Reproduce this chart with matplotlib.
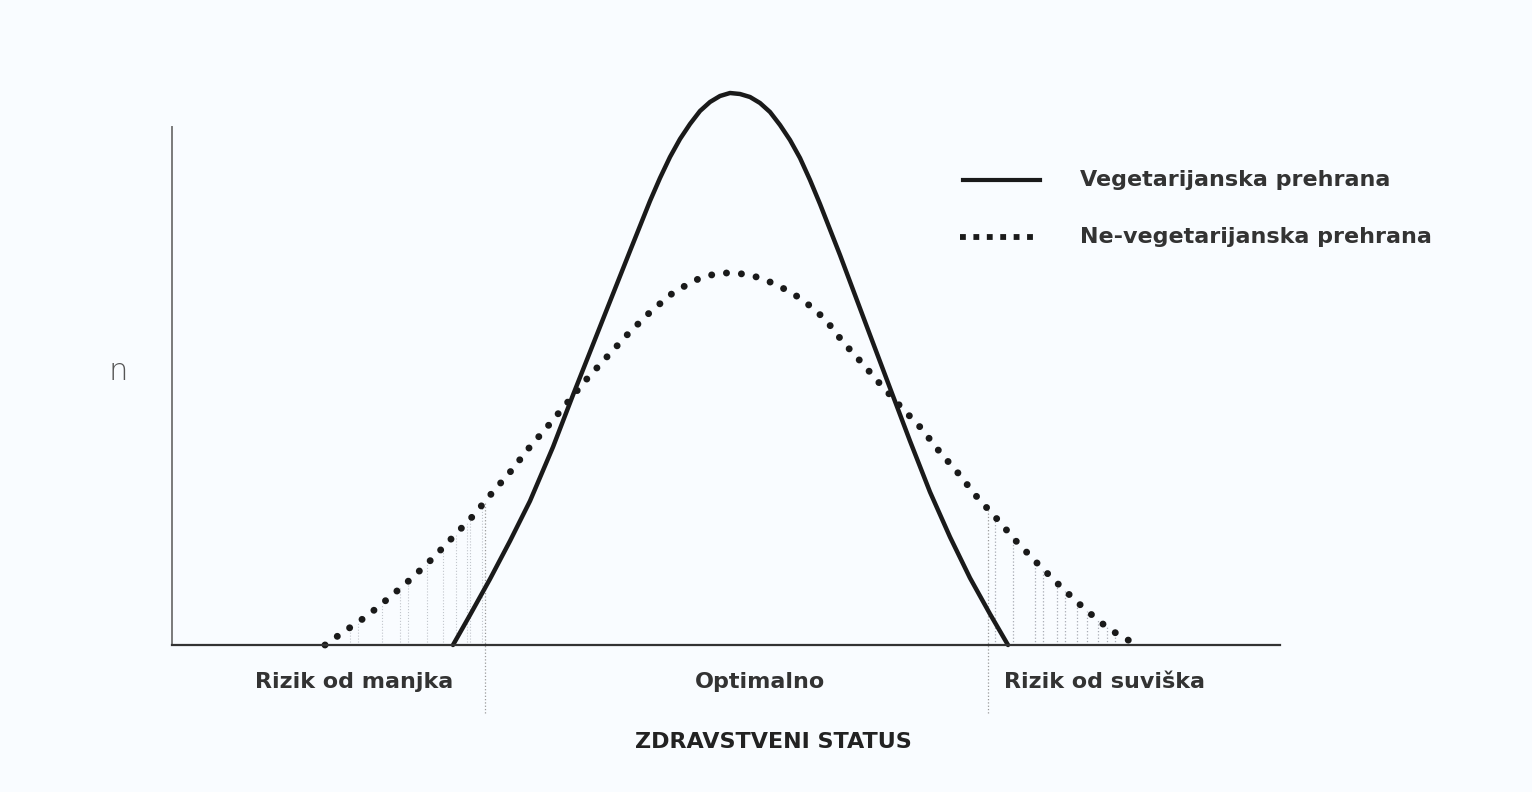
import numpy as np
import matplotlib.pyplot as plt

# values (x = health status, y = n), axis origin at (0, 0)
veg_x = [28.1, 29.8, 31.8, 33.8, 35.8, 38.1, 40.1, 43.5, 45.8, 47.8, 48.8, 49.8, 50.8,
         51.8, 52.8, 53.8, 54.8, 55.8, 56.8, 57.8, 58.8, 59.8, 60.8, 61.8, 62.8, 63.8,
         64.8, 66.8, 69.5, 72.1, 73.8, 75.8, 77.8, 79.8, 81.8, 83.6]
veg_y = [0.0, 3.0, 6.6, 10.4, 14.4, 19.8, 25.0, 33.6, 39.4, 44.4, 46.7, 48.8, 50.6,
         52.1, 53.4, 54.3, 54.9, 55.2, 55.1, 54.8, 54.2, 53.3, 52.0, 50.5, 48.7, 46.5,
         44.1, 39.0, 31.8, 24.9, 20.4, 15.3, 10.8, 6.7, 3.1, 0.0]

nonveg_x = [15.3, 17.0, 19.5, 21.8, 24.0, 26.1, 28.1, 30.1, 32.0, 33.9, 35.7, 37.6, 39.5,
            41.3, 43.3, 45.5, 47.5, 49.8, 52.1, 53.5, 54.8, 56.3, 57.8, 59.1, 60.5, 61.8,
            63.1, 65.3, 67.1, 69.0, 70.9, 72.9, 74.9, 76.7, 78.6, 80.5, 82.5, 84.4, 86.4,
            88.4, 90.5, 92.8, 94.8, 96.6]
nonveg_y = [0.0, 1.2, 2.9, 4.8, 6.7, 8.7, 10.8, 12.9, 15.2, 17.4, 19.7, 21.9, 24.2,
            26.4, 28.6, 31.0, 33.0, 35.0, 36.4, 36.9, 37.2, 37.2, 37.0, 36.6, 36.0, 35.3,
            34.5, 32.6, 30.3, 28.2, 26.0, 23.8, 21.7, 19.4, 17.2, 14.8, 12.6, 10.4, 8.3,
            6.3, 4.3, 2.3, 0.9, 0.0]

# zone borders and hatched tails
zone_borders = [31.3, 81.6]
left_hatch = [17.8, 18.6, 21.0, 22.8, 23.6, 25.5, 27.1, 28.4, 29.5, 29.8, 31.0]
right_hatch = [82.3, 84.1, 86.3, 87.1, 88.5, 89.3, 90.5, 91.5, 92.6, 93.5, 94.3]

zone_labels = ["Rizik od manjka", "Optimalno", "Rizik od suviška"]
zone_label_x = [18.2, 58.8, 93.3]
series_names = ["Vegetarijanska prehrana", "Ne-vegetarijanska prehrana"]

bg = '#f9fcff'
ink = '#1a1a1a'

fig = plt.figure(figsize=(15.32, 7.92), dpi=100, facecolor=bg)
ax = fig.add_axes([172 / 1532, 147 / 792, 1108 / 1532, 600 / 792])
ax.set_facecolor(bg)
ax.set_xlim(0, 110.8)
ax.set_ylim(0, 60)
for s in ['top', 'right']:
    ax.spines[s].set_visible(False)
ax.spines['left'].set_bounds(0, 51.8)
ax.spines['left'].set_color('#7a7a7a')
ax.spines['left'].set_linewidth(1.4)
ax.spines['bottom'].set_color('#333333')
ax.spines['bottom'].set_linewidth(1.6)
ax.set_xticks([])
ax.set_yticks([])

# hatching under the dotted tails
for hx in left_hatch:
    top = np.interp(hx, nonveg_x, nonveg_y)
    ax.vlines(hx, 0, top, color='#c2c6cc', lw=0.8, linestyles=':')
for hx in right_hatch:
    top = np.interp(hx, nonveg_x, nonveg_y)
    ax.vlines(hx, 0, top, color='#a8acb4', lw=0.9, linestyles=':')
for bx in zone_borders:
    top = np.interp(bx, nonveg_x, nonveg_y)
    ax.vlines(bx, -6.8, top, color='#9a9a9a', lw=0.9, linestyles=':', clip_on=False)

ax.plot(veg_x, veg_y, color=ink, lw=3.2, solid_capstyle='round',
        solid_joinstyle='round', clip_on=False)
ax.plot(nonveg_x, nonveg_y, color=ink, lw=5.0, linestyle=(0, (0.01, 2.15)),
        dash_capstyle='round', clip_on=False)

# legend drawn by hand
ax.plot([79.1, 86.8], [46.5, 46.5], color=ink, lw=3.0, clip_on=False)
ax.plot([78.8, 86.2], [40.8, 40.8], color=ink, lw=4.2, linestyle=(0, (1.0, 1.3)),
        dash_capstyle='butt', clip_on=False)
for ty, name in zip([46.5, 40.8], series_names):
    ax.text(90.8, ty, name, fontsize=16, color='#333333', fontweight='semibold',
            va='center', ha='left')

for lab, lx in zip(zone_labels, zone_label_x):
    ax.text(lx, -3.7, lab, fontsize=16, color='#333333', fontweight='semibold',
            ha='center', va='center', clip_on=False)
ax.text(60.1, -9.7, "ZDRAVSTVENI STATUS", fontsize=16, color='#222222',
        fontweight='semibold', ha='center', va='center', clip_on=False)
ax.text(-5.4, 27.3, "n", fontsize=22, color='#555555', fontweight='light',
        ha='center', va='center', clip_on=False)

fig.savefig('out.png', dpi=100, facecolor=bg)
